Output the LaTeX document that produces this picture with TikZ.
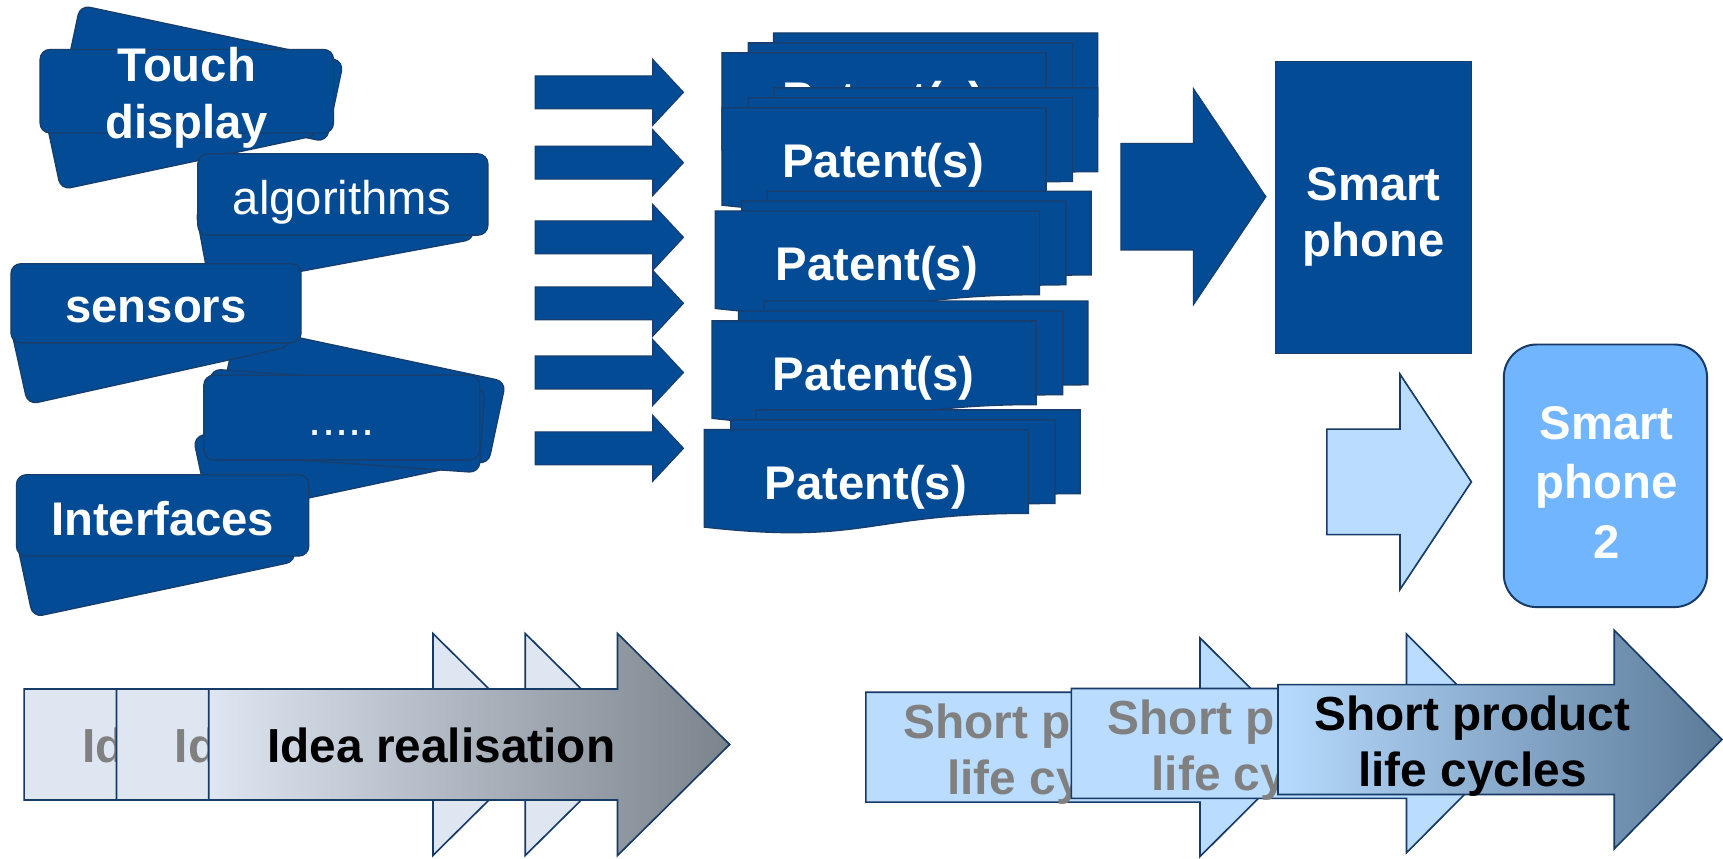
\documentclass[tikz,border=0pt]{standalone}
\usepackage{fontspec}
\setmainfont{Liberation Sans}
\definecolor{dblue}{HTML}{034B94}
\definecolor{dline}{HTML}{173E6C}
\definecolor{lblue}{HTML}{B9DCFF}
\definecolor{mblue}{HTML}{72B5FF}
\definecolor{chev}{HTML}{DDE6F1}
\definecolor{chevend}{HTML}{7B838C}
\definecolor{shortstart}{HTML}{B6DAFD}
\definecolor{shortend}{HTML}{5C7B99}
\definecolor{navy}{HTML}{173A66}
\definecolor{gtext}{HTML}{808080}
% horizontal block arrow: style, x0, yc, body length, body half height, head length, head half height
\newcommand\harrow[7]{\path[#1] (#2,{#3-#5}) -- ({#2+#4},{#3-#5}) -- ({#2+#4},{#3-#7}) -- ({#2+#4+#6},#3) -- ({#2+#4},{#3+#7}) -- ({#2+#4},{#3+#5}) -- (#2,{#3+#5}) -- cycle;}
% document shape with wavy bottom
\newcommand\pdoc[2]{\path[docshape] (#1,#2) -- ({#1+295},#2) -- ({#1+295},{#2+76.2}) .. controls ({#1+147.5},{#2+76.2}) and ({#1+147.5},{#2+105.2}) .. (#1,{#2+88.7}) -- cycle;}
% stack: x, y, node name, text offset
\newcommand\pstack[4]{\pdoc{#1+47}{#2-18}\pdoc{#1+24}{#2-9}\pdoc{#1}{#2}\node[wtext] (#3) at ({#1+147},{#2+#4}) {Patent(s)};}
\begin{document}
\begin{tikzpicture}[x=1pt,y=-1pt,
  card/.style={draw=dline,line width=1.2pt,fill=dblue,rounded corners=9pt,inner sep=0pt},
  wtext/.style={text=white,font=\fontsize{43}{51}\selectfont\bfseries,align=center,inner sep=0pt},
  wreg/.style={text=white,font=\fontsize{43}{51}\selectfont,align=center,inner sep=0pt},
  btext/.style={font=\fontsize{43.5}{51}\selectfont\bfseries,align=center,inner sep=0pt},
  docshape/.style={draw=dline,line width=1.2pt,fill=dblue},
  darr/.style={draw=dline,line width=1pt,fill=dblue},
  larr/.style={draw=navy,line width=1.5pt,fill=lblue},
  chevA/.style={draw=navy,line width=1.5pt,fill=chev},
  chevB/.style={draw=navy,line width=1.5pt,left color=chev,right color=chevend},
  shA/.style={draw=navy,line width=1.5pt,fill=lblue},
  shB/.style={draw=navy,line width=1.5pt,left color=shortstart,right color=shortend}]
\useasboundingbox (0,0) rectangle (1568,781);
\fill[white] (0,0) rectangle (1568,781);

% ---------- left cards ----------
% Touch display
\node[card,rotate=-12,minimum width=245pt,minimum height=75pt] (tdb1) at (185,67) {};
\node[card,rotate=12,minimum width=240pt,minimum height=75pt] (tdb2) at (165,111) {};
\node[card,minimum width=267pt,minimum height=76pt] (tdf) at (170,83) {};
\node[wtext] (tdt) at (170,89) {Touch\\display};
% algorithms
\node[card,rotate=10.5,minimum width=245pt,minimum height=73pt] (algb) at (305,204) {};
\node[card,minimum width=264pt,minimum height=74pt] (algf) at (312,177) {};
\node[wreg] (algt) at (311,184) {algorithms};
% dots
\node[card,rotate=-12,minimum width=250pt,minimum height=77pt] (dotb1) at (330,359) {};
\node[card,rotate=12,minimum width=250pt,minimum height=76pt] (dotb2) at (306,409) {};
\node[card,rotate=-4,minimum width=250pt,minimum height=77pt] (dotb3) at (314,383) {};
\node[card,minimum width=251pt,minimum height=77pt] (dotf) at (311,380) {};
\node[wreg] (dott) at (311,394) {.....};
% sensors
\node[card,rotate=12.5,minimum width=245pt,minimum height=73pt] (senb) at (137,306) {};
\node[card,minimum width=264pt,minimum height=72pt] (senf) at (142,276) {};
\node[wtext] (sent) at (142,282) {sensors};
% Interfaces
\node[card,rotate=12,minimum width=245pt,minimum height=74pt] (intb) at (142,500) {};
\node[card,minimum width=266pt,minimum height=74pt] (intf) at (148,469) {};
\node[wtext] (intt) at (148,472) {Interfaces};

% ---------- small arrows ----------
\foreach \yc in {84,148,216,276,339,408} {\harrow{darr}{487}{\yc}{107}{15}{28}{30}}

% ---------- patent stacks ----------
\pstack{657}{48}{pat1}{46}
\pstack{657}{98}{pat2}{52}
\pstack{651}{192}{pat3}{52}
\pstack{648}{292}{pat4}{52}
\pstack{641}{391}{pat5}{52}

% ---------- smart phones ----------
\harrow{darr}{1020}{179}{66}{48.5}{66}{98.5}
\node[draw=dline,line width=1.2pt,fill=dblue,inner sep=0pt,minimum width=178pt,minimum height=266pt] (sp) at (1250,189) {};
\node[wtext] (spt) at (1250,197) {Smart\\phone};
\harrow{larr}{1207.5}{438.5}{66.5}{48}{65}{98}
\node[draw=navy,line width=1.8pt,fill=mblue,rounded corners=30pt,inner sep=0pt,minimum width=185pt,minimum height=239pt] (sp2) at (1461,433) {};
\node[wtext,font=\fontsize{43}{54}\selectfont\bfseries] (sp2t) at (1462,439) {Smart\\phone\\2};

% ---------- idea realisation ----------
\harrow{chevA}{22}{677.5}{372}{50.5}{102}{101}
\node[btext,text=gtext,anchor=west] (idea1) at (75,678) {Idea realisation};
\harrow{chevA}{106}{677.5}{372}{50.5}{102}{101}
\node[btext,text=gtext,anchor=west] (idea2) at (159,678) {Idea realisation};
\harrow{chevB}{190}{677.5}{372}{50.5}{102}{101}
\node[btext,text=black,anchor=west] (idea3) at (243,678) {Idea realisation};

% ---------- short product life cycles ----------
\harrow{shA}{788}{680}{304}{50}{100}{99.5}
\node[btext,text=gtext] (short1) at (966,686) {Short product\\life cycles};
\harrow{shA}{975}{676.5}{305}{50}{99}{99.5}
\node[btext,text=gtext] (short2) at (1152,683) {Short product\\life cycles};
\harrow{shB}{1163}{673}{306}{50}{98}{99.5}
\node[btext,text=black] (short3) at (1340,679) {Short product\\life cycles};
\end{tikzpicture}
\end{document}
